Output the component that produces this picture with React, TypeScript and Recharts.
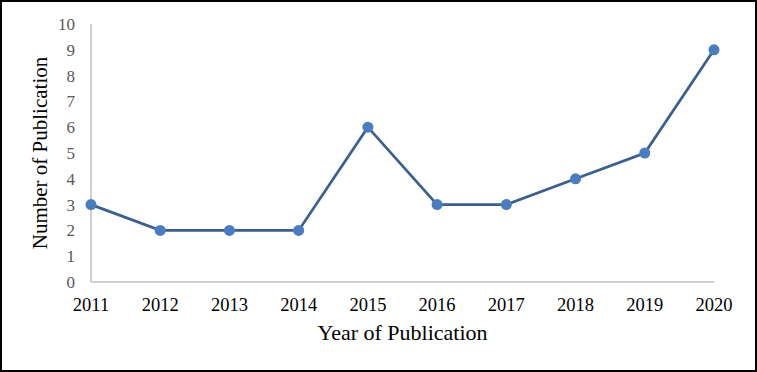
import React from 'react'
import { LineChart, Line, XAxis, YAxis, Label } from 'recharts'

const years = ['2011', '2012', '2013', '2014', '2015', '2016', '2017', '2018', '2019', '2020']
const publications = [3, 2, 2, 2, 6, 3, 3, 4, 5, 9]
const yTicks = [0, 1, 2, 3, 4, 5, 6, 7, 8, 9, 10]

const data = years.map((year, i) => ({ year, count: publications[i] }))

const font = '"Liberation Serif", "Times New Roman", serif'

export default function App() {
  return (
    <div
      style={{
        position: 'absolute',
        left: 0,
        top: 0,
        width: 757,
        height: 372,
        boxSizing: 'border-box',
        border: '2px solid #000',
        background: '#fff',
        fontFamily: font,
      }}
    >
      <LineChart
        width={753}
        height={368}
        data={data}
        margin={{ top: 22, right: 41, bottom: 58, left: 29 }}
        style={{ fontFamily: font }}
      >
        <XAxis
          dataKey="year"
          tickLine={false}
          axisLine={{ stroke: '#bfbfbf', strokeWidth: 1.5 }}
          tick={{ fontSize: 18.5, fill: '#000', fontFamily: font }}
          tickMargin={10}
          height={30}
          interval={0}
        >
          <Label
            value="Year of Publication"
            position="bottom"
            offset={12}
            style={{ fontSize: 22, fill: '#000', fontFamily: font }}
          />
        </XAxis>
        <YAxis
          domain={[0, 10]}
          ticks={yTicks}
          interval={0}
          tickLine={false}
          axisLine={{ stroke: '#bfbfbf', strokeWidth: 1.5 }}
          tick={{ fontSize: 17, fill: '#595959', fontFamily: font }}
          tickMargin={10}
          width={60}
        >
          <Label
            value="Number of Publication"
            angle={-90}
            position="center"
            dx={-21}
            style={{ fontSize: 21, fill: '#000', fontFamily: font, textAnchor: 'middle' }}
          />
        </YAxis>
        <Line
          type="linear"
          dataKey="count"
          stroke="#3b5f8e"
          strokeWidth={2.75}
          dot={{ r: 5.5, fill: '#4a7cc0', stroke: 'none', strokeWidth: 0 }}
          activeDot={false}
          isAnimationActive={false}
        />
      </LineChart>
    </div>
  )
}
